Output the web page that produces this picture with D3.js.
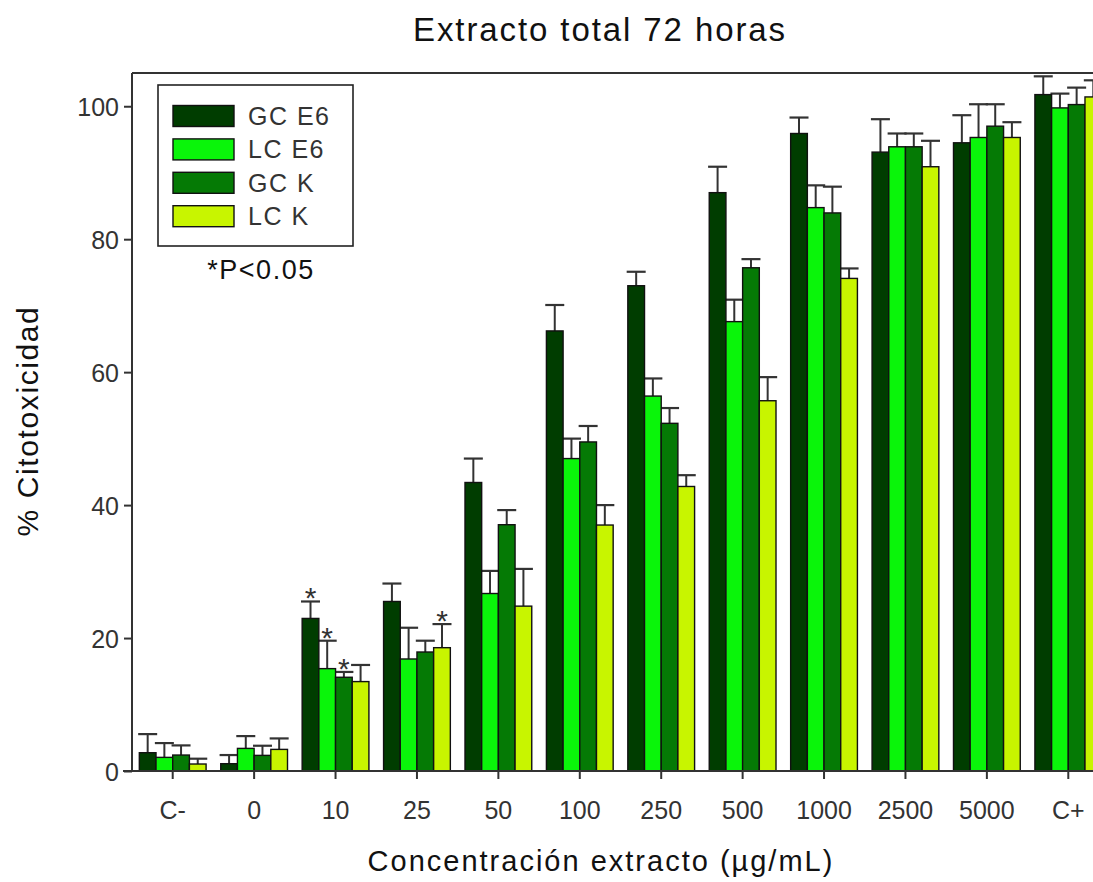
<!DOCTYPE html>
<html>
<head>
<meta charset="utf-8">
<script src="https://cdn.jsdelivr.net/npm/d3@7/dist/d3.min.js"></script>
<style>
  html, body { margin: 0; padding: 0; background: #fff; }
  svg { display: block; font-family: "Liberation Sans", Arial, sans-serif; }
</style>
</head>
<body>
<svg id="chart" width="1093" height="882"></svg>
<script>
const categories = ["C-", "0", "10", "25", "50", "100", "250", "500", "1000", "2500", "5000", "C+"];
const seriesNames = ["GC E6", "LC E6", "GC K", "LC K"];
const seriesColors = ["#003d00", "#0af50a", "#057a05", "#c8f500"];

const gcE6 = [2.75, 1.1, 22.95, 25.5, 43.4, 66.2, 73.0, 87.0, 95.9, 93.1, 94.5, 101.75];
const lcE6 = [2.05, 3.4, 15.4, 16.85, 26.7, 47.0, 56.4, 67.6, 84.75, 93.9, 95.3, 99.75];
const gcK  = [2.4, 2.35, 14.1, 17.9, 37.05, 49.5, 52.3, 75.7, 83.95, 93.9, 97.0, 100.25];
const lcK  = [1.05, 3.25, 13.45, 18.55, 24.8, 37.0, 42.8, 55.7, 74.1, 90.9, 95.3, 101.4];

const gcE6Err = [2.8, 1.3, 2.55, 2.7, 3.6, 3.9, 2.1, 3.9, 2.4, 4.95, 4.15, 2.75];
const lcE6Err = [2.15, 1.85, 4.2, 4.7, 3.4, 3.0, 2.65, 3.3, 3.35, 2.0, 5.0, 2.15];
const gcKErr  = [1.45, 1.45, 0.8, 1.7, 2.2, 2.4, 2.3, 1.3, 3.95, 2.0, 3.3, 2.55];
const lcKErr  = [0.8, 1.65, 2.5, 3.55, 5.6, 3.0, 1.7, 3.55, 1.5, 3.9, 2.3, 2.5];

// significance markers: [category, series]
const stars = [["10", "GC E6"], ["10", "LC E6"], ["10", "GC K"], ["25", "LC K"]];

const yTicks = [0, 20, 40, 60, 80, 100];

const titleText = "Extracto total 72 horas";
const xLabelText = "Concentración extracto (µg/mL)";
const yLabelText = "% Citotoxicidad";
const noteText = "*P<0.05";

const values = [gcE6, lcE6, gcK, lcK];
const errors = [gcE6Err, lcE6Err, gcKErr, lcKErr];

const svg = d3.select("#chart");
const mLeft = 132, mRight = 1109, mTop = 73, mBottom = 771;

const x = d3.scaleBand().domain(categories).range([mLeft, mRight]).paddingInner(0.18).paddingOuter(0.09);
const xs = d3.scaleBand().domain(seriesNames).range([0, x.bandwidth()]);
const y = d3.scaleLinear().domain([0, 105]).range([mBottom, mTop]);

const data = [];
categories.forEach((c, i) => {
  seriesNames.forEach((s, j) => {
    data.push({cat: c, ser: s, v: values[j][i], e: errors[j][i], color: seriesColors[j]});
  });
});

// frame top line
svg.append("line").attr("x1", mLeft).attr("x2", mRight).attr("y1", y(105)).attr("y2", y(105))
  .attr("stroke", "#333").attr("stroke-width", 2);

// error bars (behind bars)
const eb = svg.append("g");
data.forEach(d => {
  const cx = x(d.cat) + xs(d.ser) + xs.bandwidth() / 2;
  eb.append("line").attr("x1", cx).attr("x2", cx).attr("y1", y(d.v)).attr("y2", y(d.v + d.e))
    .attr("stroke", "#333").attr("stroke-width", 2);
  eb.append("line").attr("x1", cx - 9.5).attr("x2", cx + 9.5).attr("y1", y(d.v + d.e)).attr("y2", y(d.v + d.e))
    .attr("stroke", "#333").attr("stroke-width", 2.2);
});

// bars
svg.append("g").selectAll("rect").data(data).join("rect")
  .attr("x", d => x(d.cat) + xs(d.ser))
  .attr("width", xs.bandwidth())
  .attr("y", d => y(d.v))
  .attr("height", d => y(0) - y(d.v))
  .attr("fill", d => d.color)
  .attr("stroke", "#111")
  .attr("stroke-width", 1.4);

// stars
stars.forEach(([c, s]) => {
  const j = seriesNames.indexOf(s), i = categories.indexOf(c);
  const cx = x(c) + xs(s) + xs.bandwidth() / 2;
  svg.append("text").attr("x", cx).attr("y", y(values[j][i] + errors[j][i]) + 7)
    .attr("text-anchor", "middle").attr("font-size", 30).attr("fill", "#333").text("*");
});

// y axis
const yAxis = d3.axisLeft(y).tickValues(yTicks).tickSize(8).tickPadding(6);
const gy = svg.append("g").attr("transform", `translate(${mLeft},0)`).call(yAxis);
gy.select(".domain").attr("d", `M0,${y(105)}V${mBottom}`).attr("stroke", "#333").attr("stroke-width", 2);
gy.selectAll(".tick line").attr("stroke", "#333").attr("stroke-width", 2);
gy.selectAll(".tick text").attr("font-size", 25).attr("fill", "#333")
  .attr("font-family", "Liberation Sans, Arial, sans-serif").attr("dy", "0.36em").attr("x", -13);

// x axis
const xAxis = d3.axisBottom(x).tickSize(8).tickPadding(22);
const gx = svg.append("g").attr("transform", `translate(0,${mBottom})`).call(xAxis);
gx.select(".domain").attr("d", `M123,0H${mRight}`).attr("stroke", "#333").attr("stroke-width", 2);
gx.selectAll(".tick line").attr("stroke", "#333").attr("stroke-width", 2);
gx.selectAll(".tick text").attr("font-size", 25).attr("fill", "#333")
  .attr("font-family", "Liberation Sans, Arial, sans-serif");

// title
svg.append("text").attr("x", 600).attr("y", 41).attr("text-anchor", "middle")
  .attr("font-size", 33).attr("letter-spacing", 1.9).attr("fill", "#111").text(titleText);

// x label
svg.append("text").attr("x", 601).attr("y", 871).attr("text-anchor", "middle")
  .attr("font-size", 29).attr("letter-spacing", 2).attr("fill", "#111").text(xLabelText);

// y label
svg.append("text").attr("transform", "translate(38,421) rotate(-90)").attr("text-anchor", "middle")
  .attr("font-size", 30).attr("letter-spacing", 1.6).attr("fill", "#111").text(yLabelText);

// legend
const lg = svg.append("g");
lg.append("rect").attr("x", 158).attr("y", 85).attr("width", 195).attr("height", 161)
  .attr("fill", "#fff").attr("stroke", "#222").attr("stroke-width", 1.6);
seriesNames.forEach((s, j) => {
  const cy = 116 + j * 33.4;
  lg.append("rect").attr("x", 173).attr("y", cy - 10.5).attr("width", 61).attr("height", 21)
    .attr("fill", seriesColors[j]).attr("stroke", "#111").attr("stroke-width", 1.4);
  lg.append("text").attr("x", 248).attr("y", cy + 9).attr("font-size", 25)
    .attr("letter-spacing", 1.5).attr("fill", "#333").text(s);
});
svg.append("text").attr("x", 261).attr("y", 279).attr("text-anchor", "middle")
  .attr("font-size", 27).attr("letter-spacing", 1.5).attr("fill", "#111").text(noteText);
</script>
</body>
</html>
